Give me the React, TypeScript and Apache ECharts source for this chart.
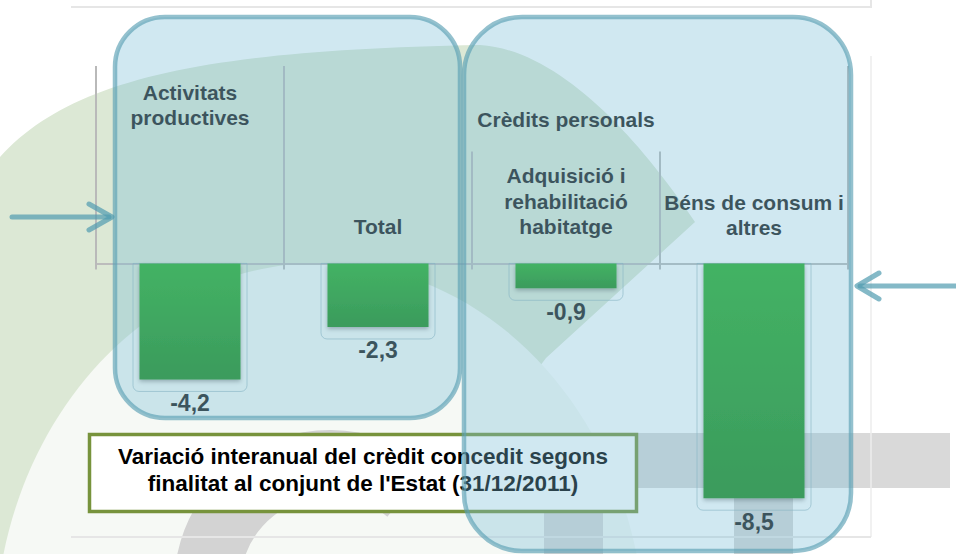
import React, { useEffect, useRef } from "react";
import * as echarts from "echarts";

// ---- data ----
const categories = [
  "Activitats productives",
  "Total",
  "Adquisició i rehabilitació habitatge",
  "Béns de consum i altres",
];
const values = [-4.2, -2.3, -0.9, -8.5];
const categoryLabelLines = [
  ["Activitats", "productives"],
  ["Total"],
  ["Adquisició i", "rehabilitació", "habitatge"],
  ["Béns de consum i", "altres"],
];
const groupLabel = "Crèdits personals";
const titleLines = [
  "Variació interanual del crèdit concedit segons",
  "finalitat al conjunt de l'Estat (31/12/2011)",
];
const yMin = -9;
const yMax = 7.15;

// ---- layout (decoration) ----
const FONT = '"Liberation Sans", Arial, Helvetica, sans-serif';
const labelOffsets = [-158.5, -37, -62, -48.5];
const LEAF =
  "M0,157 C70,80 200,50 480,45 C560,50 640,140 695,222 L546,358 L470,460 L200,554 L0,554 Z";

let registered = false;
function ensureShapes() {
  if (registered) return;
  echarts.graphic.registerShape("bgLeaf", echarts.graphic.extendPath(LEAF, {}));
  registered = true;
}

function txt(text: string, x: number, y: number, size: number, fill: string, z: number, lh: number, align = "center") {
  return {
    type: "text",
    z,
    silent: true,
    style: {
      text,
      x,
      y,
      fill,
      font: `bold ${size}px ${FONT}`,
      align,
      textAlign: align,
      verticalAlign: "middle",
      textVerticalAlign: "middle",
      lineHeight: lh,
    },
  };
}

export default function App() {
  const ref = useRef<HTMLDivElement>(null);
  useEffect(() => {
    ensureShapes();
    const chart = echarts.init(ref.current!, null, { renderer: "svg" });
    chart.setOption({
      animation: false,
      backgroundColor: "#ffffff",
      grid: { left: 96, top: 66, width: 752, height: 446, containLabel: false },
      xAxis: {
        type: "category",
        data: categories,
        axisLine: { onZero: true, lineStyle: { color: "#bcbcbc", width: 2 } },
        axisTick: { show: false },
        axisLabel: { show: false },
        splitLine: { show: false },
      },
      yAxis: { type: "value", min: yMin, max: yMax, show: false, splitLine: { show: false } },
      series: [
        {
          type: "custom",
          silent: true,
          z: 1,
          encode: { x: 0, y: 1 },
          data: values.map((v, i) => [i, v]),
          renderItem: (params: any, api: any) => {
            const i = api.value(0);
            const v = api.value(1);
            const t = api.coord([i, 0]);
            const b = api.coord([i, v]);
            return {
              type: "rect",
              shape: { x: t[0] - 57, y: t[1], width: 114, height: b[1] - t[1] + 12, r: [0, 0, 6, 6] },
              style: { fill: "none", stroke: "rgba(140,175,185,0.6)", lineWidth: 1 },
            };
          },
        },
        {
          type: "bar",
          data: values,
          barWidth: 101,
          z: 3,
          itemStyle: {
            color: new echarts.graphic.LinearGradient(0, 0, 0, 1, [
              { offset: 0, color: "#28ad27" },
              { offset: 1, color: "#1b891c" },
            ]),
            shadowBlur: 4,
            shadowOffsetY: 2,
            shadowColor: "rgba(0,0,0,0.35)",
          },
          label: {
            show: true,
            position: "bottom",
            distance: 12,
            formatter: (p: any) => String(p.value).replace(".", ","),
            color: "#1c1c1c",
            fontFamily: FONT,
            fontWeight: "bold",
            fontSize: 23,
          },
        },
      ],
    });

    const cx = categories.map((c, i) => chart.convertToPixel({ xAxisIndex: 0 }, i) as number);
    const band = cx[1] - cx[0];
    const zeroY = chart.convertToPixel({ yAxisIndex: 0 }, 0) as number;
    const topY = chart.convertToPixel({ yAxisIndex: 0 }, yMax) as number;
    const bounds = [cx[0] - band / 2, ...cx.map((x) => x + band / 2)];

    const g: any[] = [];
    // background logo
    g.push({ type: "bgLeaf", x: 0, y: 0, z: -10, silent: true, style: { fill: "#dce8d5" } });
    g.push({ type: "ellipse", z: -9, silent: true, shape: { cx: 320, cy: 640, rx: 325, ry: 377 }, style: { fill: "#f6f9f5" } });
    g.push({
      type: "arc",
      z: -8,
      silent: true,
      shape: { cx: 330, cy: 586, r: 123, startAngle: Math.PI * 0.85, endAngle: Math.PI * 1.72, clockwise: true },
      style: { stroke: "#d3d3d3", lineWidth: 66, fill: "none" },
    });
    g.push({ type: "rect", z: -8, silent: true, shape: { x: 470, y: 433, width: 480, height: 55 }, style: { fill: "#d9d9d9" } });
    g.push({ type: "rect", z: -8, silent: true, shape: { x: 544, y: 488, width: 59, height: 70 }, style: { fill: "#d7d7d7" } });
    g.push({ type: "rect", z: -8, silent: true, shape: { x: 734, y: 488, width: 59, height: 70 }, style: { fill: "#d7d7d7" } });
    // faint frame
    g.push({ type: "line", z: -7, silent: true, shape: { x1: 71, y1: 7, x2: 871, y2: 7 }, style: { stroke: "#e6e6e6", lineWidth: 2 } });
    g.push({ type: "line", z: -7, silent: true, shape: { x1: 871, y1: 0, x2: 871, y2: 8 }, style: { stroke: "#e6e6e6", lineWidth: 2 } });
    g.push({ type: "line", z: -7, silent: true, shape: { x1: 871, y1: 56, x2: 871, y2: 537 }, style: { stroke: "#ececec", lineWidth: 1.5 } });
    g.push({ type: "line", z: -7, silent: true, shape: { x1: 71, y1: 537, x2: 871, y2: 537 }, style: { stroke: "#e6e6e6", lineWidth: 2 } });

    // category separators
    bounds.forEach((bx, i) => {
      const inner = i === 2 || i === 3;
      g.push({
        type: "line",
        z: 4,
        silent: true,
        shape: { x1: bx, y1: inner ? zeroY - 112 : topY, x2: bx, y2: zeroY + 6 },
        style: { stroke: "#b9b9b9", lineWidth: 2 },
      });
    });
    // category labels
    categoryLabelLines.forEach((lines, i) => {
      g.push(txt(lines.join("\n"), cx[i], zeroY + labelOffsets[i], 21, "#1c1c1c", 5, 25.5));
    });
    g.push(txt(groupLabel, cx[2], zeroY - 144, 21, "#1c1c1c", 5, 25.5));

    // title box
    g.push({
      type: "rect",
      z: 20,
      silent: true,
      shape: { x: 89.5, y: 434.5, width: 547, height: 77 },
      style: { fill: "#ffffff", stroke: "#77933c", lineWidth: 3.5 },
    });
    g.push(txt(titleLines.join("\n"), 363, 469.5, 22.5, "#000000", 21, 27));

    // overlay boxes
    const ovStyle = { fill: "rgba(120,190,215,0.35)", stroke: "rgba(90,160,180,0.65)", lineWidth: 4.5 };
    g.push({ type: "rect", z: 50, silent: true, shape: { x: 115, y: 17, width: 345, height: 401, r: 50 }, style: ovStyle });
    g.push({ type: "rect", z: 50, silent: true, shape: { x: 464, y: 17, width: 387, height: 534, r: 58 }, style: ovStyle });

    // arrows
    const arStyle = { stroke: "rgba(80,155,175,0.7)", lineWidth: 5, fill: "none", lineCap: "round", lineJoin: "round" };
    g.push({ type: "line", z: 60, silent: true, shape: { x1: 12, y1: 217, x2: 109, y2: 217 }, style: arStyle });
    g.push({ type: "polyline", z: 60, silent: true, shape: { points: [[89, 204], [112, 217], [89, 230]] }, style: arStyle });
    g.push({ type: "line", z: 60, silent: true, shape: { x1: 860, y1: 286, x2: 958, y2: 286 }, style: arStyle });
    g.push({ type: "polyline", z: 60, silent: true, shape: { points: [[879, 273], [857, 286], [879, 299]] }, style: arStyle });

    chart.setOption({ graphic: g });
    return () => chart.dispose();
  }, []);
  return <div ref={ref} style={{ position: "absolute", left: 0, top: 0, width: 956, height: 554 }} />;
}
